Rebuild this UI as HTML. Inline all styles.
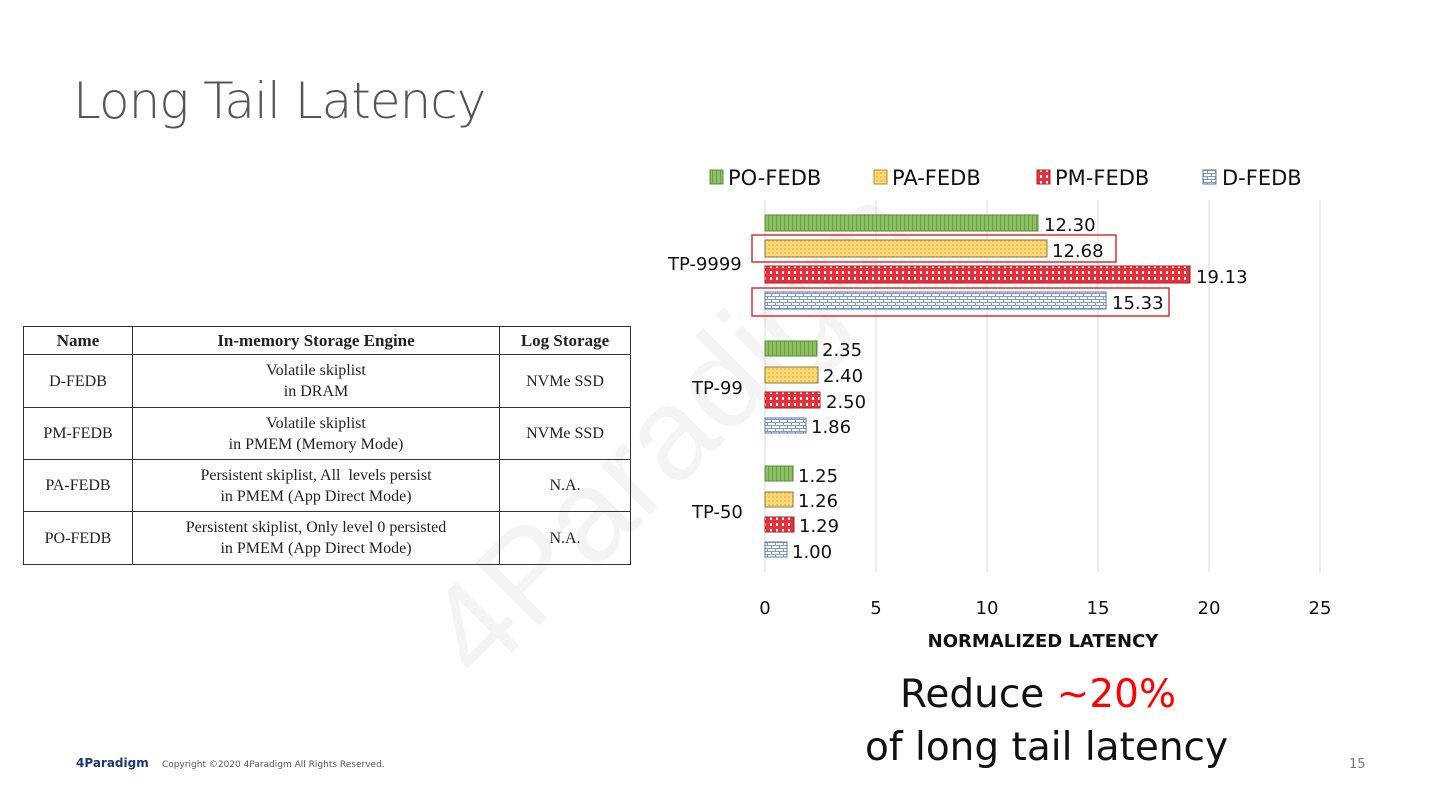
<!DOCTYPE html>
<html><head><meta charset="utf-8"><style>
body{margin:0;width:1440px;height:810px;background:#fff;position:relative;overflow:hidden;font-family:"Liberation Sans","DejaVu Sans",sans-serif}
.a{position:absolute;white-space:nowrap}
table{position:absolute;left:23px;top:326px;border-collapse:collapse;font-family:"Liberation Serif",serif;font-size:16px;color:#222;z-index:2}
td{border:1.5px solid #333;text-align:center;padding:0;line-height:21px}
th{border:1.5px solid #333;font-weight:bold;height:25px;font-size:17px}
</style></head><body>
<div class="a" style="left:395px;top:600px;font-size:130px;color:#f4f4f4;transform:rotate(-45deg);transform-origin:left top;z-index:0">4Paradigm</div>
<div class="a" style="left:73px;top:72px;font-size:50px;color:#555;font-family:'DejaVu Sans',sans-serif;font-weight:200;letter-spacing:-1px">Long Tail Latency</div>
<table>
<tr><th style="width:106px">Name</th><th style="width:364px">In-memory Storage Engine</th><th style="width:128px">Log Storage</th></tr>
<tr style="height:53px"><td>D-FEDB</td><td>Volatile skiplist<br>in DRAM</td><td>NVMe SSD</td></tr>
<tr style="height:52px"><td>PM-FEDB</td><td>Volatile skiplist<br>in PMEM (Memory Mode)</td><td>NVMe SSD</td></tr>
<tr style="height:52px"><td>PA-FEDB</td><td>Persistent skiplist, All &nbsp;levels persist<br>in PMEM (App Direct Mode)</td><td>N.A.</td></tr>
<tr style="height:53px"><td>PO-FEDB</td><td>Persistent skiplist, Only level 0 persisted<br>in PMEM (App Direct Mode)</td><td>N.A.</td></tr>
</table>
<svg class="a" style="left:0;top:0" width="1440" height="810" font-family="'DejaVu Sans',sans-serif">
<defs>
<pattern id="g" width="4" height="4" patternUnits="userSpaceOnUse"><rect width="4" height="4" fill="#8cc063"/><rect width="1" height="4" fill="#6aa048"/></pattern>
<pattern id="y" width="4" height="4" patternUnits="userSpaceOnUse"><rect width="4" height="4" fill="#fbd978"/><rect width="2" height="2" fill="#f0c050"/></pattern>
<pattern id="r" width="6" height="6" patternUnits="userSpaceOnUse"><rect width="6" height="6" fill="#e8303a"/><rect x="2" y="1" width="2" height="3" fill="#fff"/></pattern>
<pattern id="b" width="8" height="6" patternUnits="userSpaceOnUse"><rect width="8" height="6" fill="#fff"/><rect y="2" width="8" height="1" fill="#7a9acc"/><rect y="5" width="8" height="1" fill="#7a9acc"/><rect x="3" width="1" height="3" fill="#7a9acc"/><rect x="7" y="3" width="1" height="3" fill="#7a9acc"/></pattern>
</defs>
<g stroke="#d9d9d9" stroke-width="1">
<line x1="765" y1="200" x2="765" y2="572"/><line x1="876" y1="200" x2="876" y2="572"/><line x1="987" y1="200" x2="987" y2="572"/><line x1="1098" y1="200" x2="1098" y2="572"/><line x1="1209" y1="200" x2="1209" y2="572"/><line x1="1320" y1="200" x2="1320" y2="572"/>
</g>
<g font-size="21" fill="#111">
<rect x="710" y="170" width="13" height="14" fill="url(#g)" stroke="#5a8a3a"/><text x="728" y="185">PO-FEDB</text>
<rect x="874" y="170" width="13" height="14" fill="url(#y)" stroke="#b08a20"/><text x="892" y="185">PA-FEDB</text>
<rect x="1037" y="170" width="13" height="14" fill="url(#r)" stroke="#b02020"/><text x="1055" y="185">PM-FEDB</text>
<rect x="1203" y="170" width="13" height="14" fill="url(#b)" stroke="#5a7ab0"/><text x="1222" y="185">D-FEDB</text>
</g>
<g stroke-width="1">
<rect x="765" y="215" width="273" height="16" fill="url(#g)" stroke="#5a8a3a"/>
<rect x="765" y="240" width="282" height="17" fill="url(#y)" stroke="#8a7a40"/>
<rect x="765" y="266" width="425" height="17" fill="url(#r)" stroke="#a02020"/>
<rect x="765" y="292" width="341" height="17" fill="url(#b)" stroke="#5a7ab0"/>
<rect x="765" y="341" width="52" height="15" fill="url(#g)" stroke="#5a8a3a"/>
<rect x="765" y="367" width="53" height="16" fill="url(#y)" stroke="#8a7a40"/>
<rect x="765" y="392" width="55" height="16" fill="url(#r)" stroke="#a02020"/>
<rect x="765" y="418" width="41" height="15" fill="url(#b)" stroke="#5a7ab0"/>
<rect x="765" y="466" width="28" height="15" fill="url(#g)" stroke="#5a8a3a"/>
<rect x="765" y="492" width="28" height="15" fill="url(#y)" stroke="#8a7a40"/>
<rect x="765" y="517" width="29" height="15" fill="url(#r)" stroke="#a02020"/>
<rect x="765" y="542" width="22" height="15" fill="url(#b)" stroke="#5a7ab0"/>
</g>
<g fill="none" stroke="#e03030" stroke-width="1.5">
<rect x="752" y="235" width="364" height="27"/><rect x="752" y="288" width="417" height="28"/>
</g>
<g font-size="18" fill="#111">
<text x="1044" y="231">12.30</text><text x="1052" y="257">12.68</text><text x="1196" y="283">19.13</text><text x="1112" y="309">15.33</text>
<text x="822" y="356">2.35</text><text x="823" y="382">2.40</text><text x="826" y="408">2.50</text><text x="811" y="433">1.86</text>
<text x="798" y="482">1.25</text><text x="798" y="507">1.26</text><text x="799" y="532">1.29</text><text x="792" y="558">1.00</text>
<text x="668" y="270">TP-9999</text><text x="692" y="394">TP-99</text><text x="692" y="518">TP-50</text>
</g>
<g font-size="18" fill="#111" text-anchor="middle">
<text x="765" y="614">0</text><text x="876" y="614">5</text><text x="987" y="614">10</text><text x="1098" y="614">15</text><text x="1209" y="614">20</text><text x="1320" y="614">25</text>
<text x="1043" y="647" font-weight="bold" font-size="18">NORMALIZED LATENCY</text>
</g>
<g font-size="39" fill="#111">
<text x="900" y="707">Reduce <tspan fill="#f00">~20%</tspan></text>
<text x="865" y="760">of long tail latency</text>
</g>
<text x="76" y="767" font-size="12" fill="#1a3a7a" font-weight="bold">4Paradigm</text>
<text x="162" y="767" font-size="9" fill="#555">Copyright ©2020 4Paradigm All Rights Reserved.</text>
<text x="1349" y="768" font-size="13" fill="#777">15</text>
</svg>
</body></html>
